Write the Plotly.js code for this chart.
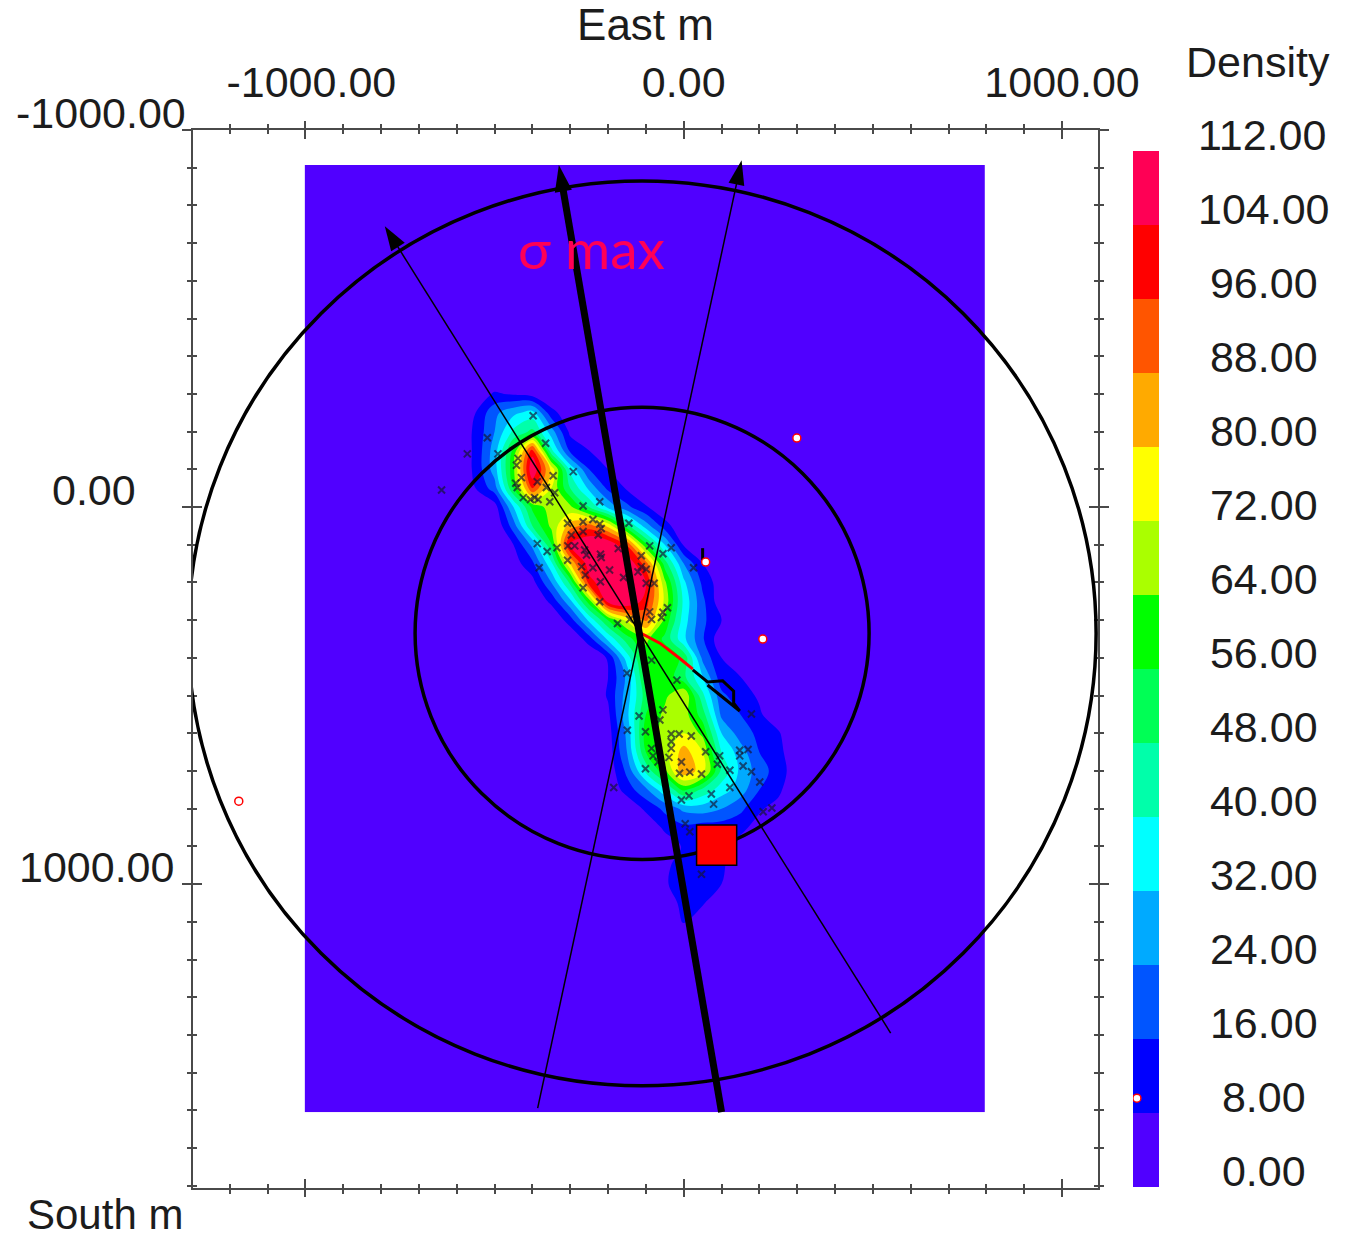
<!DOCTYPE html>
<html>
<head>
<meta charset="utf-8">
<script src="https://cdn.plot.ly/plotly-3.0.1.min.js"></script>
<style>html,body{margin:0;padding:0;background:#fff;}</style>
</head>
<body>
<div id="chart" style="width:1353px;height:1236px;"></div>
<script>
// ---- data (metres) ----
const gridX = [-1002,-600,-550,-500,-450,-400,-350,-300,-250,-200,-150,-100,-50,0,50,100,150,200,250,300,796];
const gridY = [-907,-350,-300,-250,-200,-150,-100,-50,0,50,100,150,200,250,300,350,400,450,500,550,600,650,700,750,800,850,900,950,1000,1050,1100,1150,1605];
const densityRows = [
 [0,0,0,0,0,0,0,0,0,0,0,0,0,0,0,0,0,0,0],
 [0,0,0,0,0,0,0,0,0,0,0,0,0,0,0,0,0,0,0],
 [0,3,9,7,4,0,0,0,0,0,0,0,0,0,0,0,0,0,0],
 [0,8,22,30,35,11,2,0,0,0,0,0,0,0,0,0,0,0,0],
 [0,10,24,42,50,28,6,0,0,0,0,0,0,0,0,0,0,0,0],
 [0,10,28,58,100,42,14,8,0,0,0,0,0,0,0,0,0,0,0],
 [0,10,28,62,112,78,38,16,8,0,0,0,0,0,0,0,0,0,0],
 [0,8,20,56,96,72,48,30,14,7,0,0,0,0,0,0,0,0,0],
 [0,0,4,32,58,68,66,48,30,18,9,0,0,0,0,0,0,0,0],
 [0,0,0,20,48,66,84,92,78,50,28,12,0,0,0,0,0,0,0],
 [0,0,0,8,26,55,106,114,112,95,58,32,7,0,0,0,0,0,0],
 [0,0,0,4,14,38,80,110,115,112,92,52,24,8,0,0,0,0,0],
 [0,0,0,0,5,24,50,100,112,114,104,66,34,14,3,0,0,0,0],
 [0,0,0,0,0,10,30,60,108,114,100,70,38,18,2,0,0,0,0],
 [0,0,0,0,0,0,12,34,56,74,90,62,36,18,8,0,0,0,0],
 [0,0,0,0,0,0,0,12,34,52,66,54,34,17,2,0,0,0,0],
 [0,0,0,0,0,0,0,0,9,36,60,62,54,22,8,0,0,0,0],
 [0,0,0,0,0,0,0,0,8,26,58,62,50,32,11,8,0,0,0],
 [0,0,0,0,0,0,0,0,9,28,52,62,72,42,18,11,7,0,0],
 [0,0,0,0,0,0,0,0,6,30,56,66,68,52,22,16,9,3,0],
 [0,0,0,0,0,0,0,0,4,26,60,66,72,62,32,20,14,9,0],
 [0,0,0,0,0,0,0,0,3,24,56,68,84,72,40,28,16,10,3],
 [0,0,0,0,0,0,0,0,2,18,42,62,86,76,46,30,20,12,3],
 [0,0,0,0,0,0,0,0,0,12,22,38,58,46,36,28,16,10,0],
 [0,0,0,0,0,0,0,0,0,0,10,18,26,28,24,18,9,5,0],
 [0,0,0,0,0,0,0,0,0,0,0,10,14,12,12,10,5,0,0],
 [0,0,0,0,0,0,0,0,0,0,0,2,9,9,9,5,0,0,0],
 [0,0,0,0,0,0,0,0,0,0,0,6,12,12,10,0,0,0,0],
 [0,0,0,0,0,0,0,0,0,0,0,7,12,11,8,0,0,0,0],
 [0,0,0,0,0,0,0,0,0,0,0,2,11,9,1,0,0,0,0],
 [0,0,0,0,0,0,0,0,0,0,0,0,9,2,0,0,0,0,0],
 [0,0,0,0,0,0,0,0,0,0,0,0,0,0,0,0,0,0,0],
 [0,0,0,0,0,0,0,0,0,0,0,0,0,0,0,0,0,0,0]
];
const eventX = [-398,-519,-572,-640,-365,-491,-438,-442,-292,-345,-429,-444,-440,-387,-363,-341,-424,-405,-394,-385,-354,-222,-266,-307,-266,-240,-222,-218,-145,-266,-297,-226,-387,-361,-335,-306,-288,-262,-257,-220,-218,-173,-90,-112,-55,-33,-307,-382,-270,-240,-196,-260,-112,-99,-121,-159,-220,-99,-78,-266,26,-222,-90,-43,-55,-59,-85,-175,-143,
 -85,-150,-18,-55,-118,-63,-149,-101,-33,-12,20,-33,-33,-85,58,148,170,148,95,-81,-39,-68,-6,89,-101,157,122,179,-11,16,47,201,-185,122,73,14,-6,79,210,233,4,16,47,179];
const eventY = [-242,-184,-141,-45,-169,-141,-129,-111,-94,-83,-78,-63,-52,-67,-52,-38,-25,-20,-25,-20,-14,-14,-3,43,39,33,45,57,43,65,74,74,97,118,108,103,103,114,127,125,134,110,103,129,124,108,141,161,158,161,167,180,158,165,172,187,198,202,202,214,161,251,278,267,279,293,298,309,298,
 406,441,459,538,554,565,592,596,602,602,607,622,640,640,649,645,643,660,660,660,664,676,676,682,694,687,698,702,706,703,708,729,744,744,761,766,777,788,808,798,840,861,974,549];
const stationX = [299,58,209,-1176];
const stationY = [-183,146,350,780];
const maxStressX = [100,-330];
const maxStressY = [1605,-907];
const arrowAX = [-386,153];
const arrowAY = [1594,-920];
const arrowBX = [547,-790];
const arrowBY = [1395,-745];
const redPathX = [-114,-63,-11,24];
const redPathY = [334,361,401,430];
const blackPathX = [24,63,103,132,132,148,63];
const blackPathY = [432,464,461,488,520,541,472];
const stubX = [50,50];
const stubY = [109,146];
const circleCentre = [-110,335];
const circleRadii = [600,1200];
const squareX = [34,140];
const squareY = [843,950];
const yTickVals = [-1000,0,1000];
const yTickText = ['-1000.00','0.00','1000.00'];
const xTickVals = [-1000,0,1000];
const xTickText = ['\u00a0-1000.00','0.00','1000.00'];
const legendLevels = [0,8,16,24,32,40,48,56,64,72,80,88,96,104,112];
const legendText = ['\u00a0\u00a00.00','\u00a0\u00a08.00','\u00a016.00','\u00a024.00','\u00a032.00','\u00a040.00','\u00a048.00','\u00a056.00','\u00a064.00','\u00a072.00','\u00a080.00','\u00a088.00','\u00a096.00','104.00','112.00'];
const bandColors = ['#5000ff','#0000ff','#0055ff','#00aaff','#00ffff','#00ffaa','#00ff55','#00ff00','#aaff00','#ffff00','#ffaa00','#ff5500','#ff0000','#ff0055'];
const legendStationX = [0.15];
const legendStationY = [9.6];

// ---- helpers ----
const W = 1353, H = 1236;
const px = v => v / W, py = v => 1 - v / H;
const FONT = 'Liberation Sans, Arial, sans-serif';
const INK = '#1c1c1c', AXIS = '#4a4a4a';
const scale = [];
bandColors.forEach((c, i) => {
  scale.push([i / bandColors.length, c]);
  scale.push([(i + 1) / bandColors.length, c]);
});
const z = densityRows.map(r => [0].concat(r, [0]));
const legendMid = bandColors.map((c, i) => legendLevels[i] + 4);

const arrowMarker = size => ({symbol:['circle','arrow'], size:[0,size], opacity:1, angleref:'previous', color:'#000', line:{width:0}});

const traces = [
  { type:'contour', x:gridX, y:gridY, z:z, zmin:0, zmax:112, colorscale:scale, showscale:false,
    contours:{coloring:'fill', start:8, end:104, size:8}, line:{width:0, smoothing:1}, hoverinfo:'skip' },
  { type:'scatter', mode:'markers', x:eventX, y:eventY, name:'Events',
    marker:{symbol:'x-thin-open', size:7, color:'rgba(20,20,50,0.68)', line:{width:2, color:'rgba(20,20,50,0.68)'}} },
  { type:'scatter', mode:'lines', x:redPathX, y:redPathY, line:{color:'#ff0000', width:3} },
  { type:'scatter', mode:'lines', x:blackPathX, y:blackPathY, line:{color:'#000', width:3} },
  { type:'scatter', mode:'lines', x:stubX, y:stubY, line:{color:'#000', width:3} },
  { type:'scatter', mode:'lines+markers', x:arrowAX, y:arrowAY, line:{color:'#000', width:1.5}, marker:arrowMarker(26) },
  { type:'scatter', mode:'lines+markers', x:arrowBX, y:arrowBY, line:{color:'#000', width:1.5}, marker:arrowMarker(26) },
  { type:'scatter', mode:'lines+markers', x:maxStressX, y:maxStressY, line:{color:'#000', width:7}, marker:arrowMarker(28) },
  { type:'scatter', mode:'markers', x:stationX, y:stationY,
    marker:{symbol:'circle', size:8, color:'#fff', line:{color:'#ff0000', width:1.5}} },
  // overlay axes carrying the inward half of each crossing tick
  { type:'scatter', x:[null], y:[null], xaxis:'x3', yaxis:'y3', showlegend:false },
  // legend bar
  { type:'heatmap', x:[0,1], y:legendLevels, z:legendMid.map(v => [v]), xaxis:'x2', yaxis:'y2',
    zmin:0, zmax:112, colorscale:scale, showscale:false, hoverinfo:'skip' },
  { type:'scatter', mode:'markers', x:legendStationX, y:legendStationY, xaxis:'x2', yaxis:'y2',
    marker:{symbol:'circle', size:8, color:'#fff', line:{color:'#ff0000', width:1.5}} }
];

const shapes = circleRadii.map(r => ({
  type:'circle', xref:'x', yref:'y', layer:'above',
  x0:circleCentre[0]-r, x1:circleCentre[0]+r, y0:circleCentre[1]-r, y1:circleCentre[1]+r,
  line:{color:'#000', width:3.5}
}));
shapes.push({ type:'rect', xref:'x', yref:'y', layer:'above',
  x0:squareX[0], x1:squareX[1], y0:squareY[0], y1:squareY[1],
  fillcolor:'#ff0000', line:{color:'#000', width:1.5} });

const annotations = yTickText.map((t, i) => ({
  text:t, xref:'paper', yref:'y', x:px([101,94,96][i]), y:yTickVals[i], yshift:17,
  xanchor:'center', yanchor:'middle', showarrow:false, font:{family:FONT, size:43, color:INK}
}));
annotations.push({ text:'South m', xref:'paper', yref:'paper', x:px(105), y:py(1214), height:44,
  xanchor:'center', yanchor:'middle', showarrow:false, font:{family:FONT, size:42, color:INK} });
annotations.push({ text:'Density', xref:'paper', yref:'paper', x:px(1258), y:py(62),
  xanchor:'center', yanchor:'middle', showarrow:false, font:{family:FONT, size:43, color:INK} });
annotations.push({ text:'\u03c3 max', xref:'x', yref:'y', x:-243, y:-686,
  xanchor:'center', yanchor:'middle', showarrow:false, font:{family:'Lato, sans-serif', size:55, color:'#ff0055'} });

const xBase = { range:[-1297,1095], domain:[px(193),px(1098)], showgrid:false, zeroline:false,
  linecolor:AXIS, linewidth:2, mirror:'allticks', tickcolor:AXIS, tickwidth:2,
  tickmode:'array', tickvals:xTickVals,
  minor:{tickmode:'linear', tick0:0, dtick:100, tickcolor:AXIS, tickwidth:2} };
const yBase = { range:[1806,-1000], domain:[py(1188),py(130)], showgrid:false, zeroline:false,
  linecolor:AXIS, linewidth:2, mirror:'allticks', tickcolor:AXIS, tickwidth:2,
  tickmode:'array', tickvals:yTickVals,
  minor:{tickmode:'linear', tick0:0, dtick:100, tickcolor:AXIS, tickwidth:2} };

const layout = {
  width:W, height:H, margin:{l:0,r:0,t:0,b:0,pad:0}, paper_bgcolor:'#fff', plot_bgcolor:'#fff',
  showlegend:false, font:{family:FONT, color:INK},
  xaxis: Object.assign({}, xBase, { side:'top', anchor:'y', ticks:'outside', ticklen:7,
    ticktext:xTickText, ticklabelstandoff:7, tickfont:{family:FONT, size:43, color:INK},
    minor:Object.assign({}, xBase.minor, {ticks:'outside', ticklen:4}),
    title:{text:'East m', standoff:14, font:{family:FONT, size:44, color:INK}} }),
  yaxis: Object.assign({}, yBase, { side:'left', anchor:'x', ticks:'outside', ticklen:9, showticklabels:false,
    minor:Object.assign({}, yBase.minor, {ticks:'outside', ticklen:4}) }),
  xaxis3: Object.assign({}, xBase, { side:'top', anchor:'y3', overlaying:'x', ticks:'inside', ticklen:9, showticklabels:false,
    minor:Object.assign({}, xBase.minor, {ticks:'inside', ticklen:4}) }),
  yaxis3: Object.assign({}, yBase, { side:'left', anchor:'x3', overlaying:'y', ticks:'inside', ticklen:9, showticklabels:false,
    minor:Object.assign({}, yBase.minor, {ticks:'inside', ticklen:4}) }),
  xaxis2: { domain:[px(1133),px(1159)], range:[0,1], anchor:'y2', visible:false },
  yaxis2: { domain:[py(1187),py(114)], range:[0,116], anchor:'x2', side:'right', showgrid:false, zeroline:false,
    showline:false, ticks:'', tickmode:'array',
    tickvals:legendLevels.map(v => v + 1.73), ticktext:legendText, ticklabelstandoff:38,
    tickfont:{family:FONT, size:43, color:INK} },
  shapes:shapes, annotations:annotations
};

Plotly.newPlot('chart', traces, layout, {staticPlot:true, displayModeBar:false});
</script>
</body>
</html>
